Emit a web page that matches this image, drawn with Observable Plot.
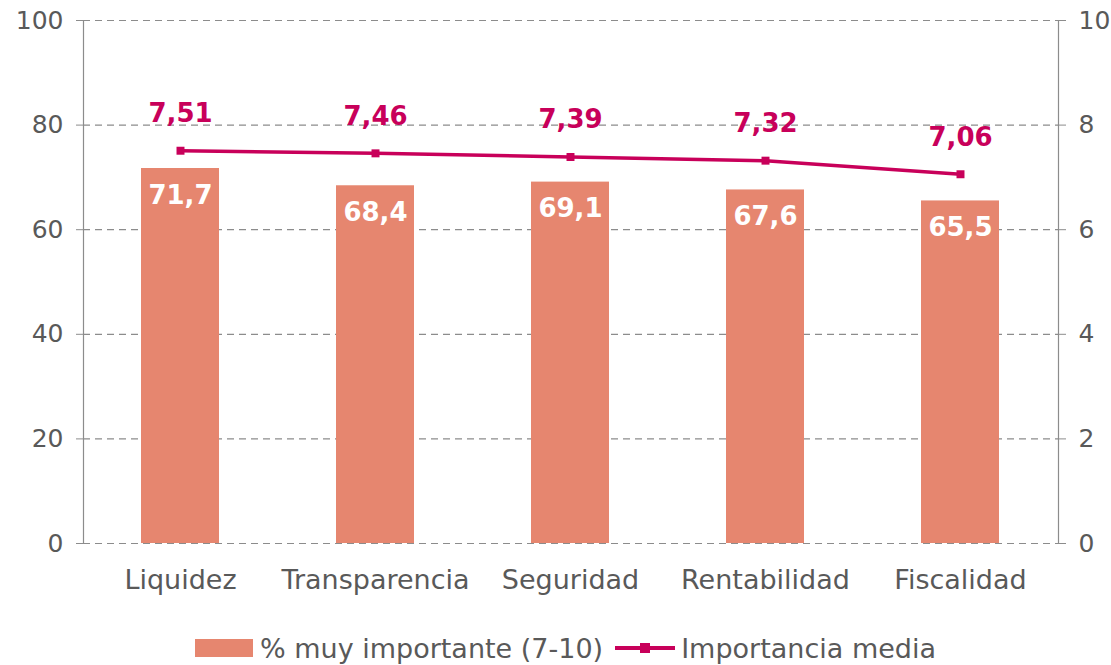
<!DOCTYPE html>
<html>
<head>
<meta charset="utf-8">
<script src="https://cdn.jsdelivr.net/npm/d3@7"></script>
<script src="https://cdn.jsdelivr.net/npm/@observablehq/plot@0.6"></script>
<style>
  body { margin: 0; background: #fff; font-family: "DejaVu Sans", Verdana, sans-serif; }
  #legend { display: flex; justify-content: center; align-items: center; height: 44px; margin-top: 26px; color: #595959; font-size: 27px; margin-left: 20px; }
  .sw { display: inline-block; width: 58px; height: 18px; background: #E6866F; margin-right: 7px; }
  .ln { position: relative; display: inline-block; width: 60px; height: 18px; margin: 0 6px 0 12px; }
  .ln::before { content: ""; position: absolute; left: 0; right: 0; top: 7px; height: 4px; background: #C8005A; }
  .ln::after { content: ""; position: absolute; left: 25px; top: 4px; width: 10px; height: 10px; background: #C8005A; }
</style>
</head>
<body>
<div id="chart"></div>
<div id="legend"><span class="sw"></span><span>% muy importante (7-10)</span><span class="ln"></span><span>Importancia media</span></div>
<script>
const categories = ["Liquidez", "Transparencia", "Seguridad", "Rentabilidad", "Fiscalidad"];
const pctMuyImportante = [71.7, 68.4, 69.1, 67.6, 65.5];
const importanciaMedia = [7.51, 7.46, 7.39, 7.32, 7.06];
const leftTicks = [0, 20, 40, 60, 80, 100];
const rightTicks = [0, 2, 4, 6, 8, 10];

const barColor = "#E6866F";
const lineColor = "#C8005A";
const axisGray = "#8C8C8C";
const textGray = "#595959";
const comma = (v, d) => v.toFixed(d).replace(".", ",");

const data = categories.map((c, i) => ({
  cat: c,
  pct: pctMuyImportante[i],
  media: importanciaMedia[i],
  mediaScaled: importanciaMedia[i] * 10
}));

const chart = Plot.plot({
  width: 1111,
  height: 600,
  marginTop: 20,
  marginBottom: 57,
  marginLeft: 83,
  marginRight: 53,
  style: { fontFamily: "DejaVu Sans, Verdana, sans-serif", background: "#fff" },
  x: { domain: categories, paddingInner: 0.6, paddingOuter: 0.3, label: null },
  y: { domain: [0, 100], label: null },
  marks: [
    Plot.ruleY(leftTicks, { stroke: axisGray, strokeDasharray: "7,5", strokeWidth: 1.2 }),
    Plot.frame({ anchor: "left", stroke: axisGray, strokeWidth: 1.2 }),
    Plot.frame({ anchor: "right", stroke: axisGray, strokeWidth: 1.2 }),
    Plot.axisY({ anchor: "left", ticks: leftTicks, tickSize: 7, tickPadding: 13, fontSize: 25, color: textGray, stroke: axisGray, label: null }),
    Plot.axisY({ anchor: "right", ticks: rightTicks.map(t => t * 10), tickFormat: d => d / 10, tickSize: 7, tickPadding: 13, fontSize: 25, color: textGray, stroke: axisGray, label: null }),
    Plot.axisX({ tickSize: 0, tickPadding: 26, fontSize: 27, color: textGray, label: null }),
    Plot.barY(data, { x: "cat", y: "pct", fill: barColor }),
    Plot.text(data, { x: "cat", y: "pct", text: d => comma(d.pct, 1), dy: 27, fill: "#fff", fontWeight: "bold", fontSize: 26 }),
    Plot.line(data, { x: "cat", y: "mediaScaled", stroke: lineColor, strokeWidth: 3.5 }),
    Plot.dot(data, { x: "cat", y: "mediaScaled", symbol: "square", r: 4.5, fill: lineColor }),
    Plot.text(data, { x: "cat", y: "mediaScaled", text: d => comma(d.media, 2), dy: -37, fill: lineColor, fontWeight: "bold", fontSize: 26 })
  ]
});
document.getElementById("chart").appendChild(chart);
</script>
</body>
</html>
